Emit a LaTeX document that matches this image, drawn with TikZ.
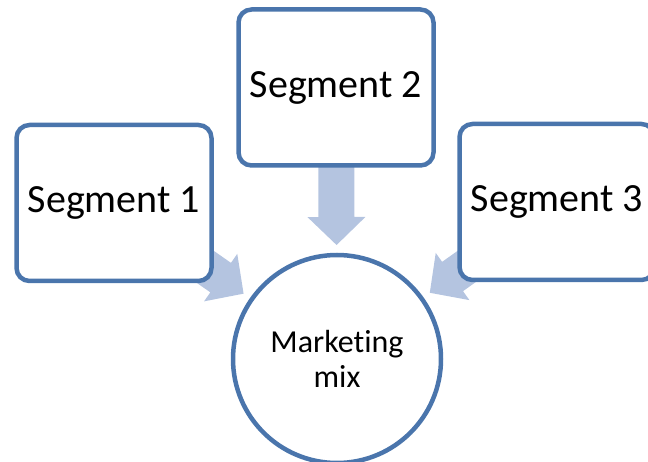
\documentclass[tikz,border=0pt]{standalone}
\usepackage{fontspec}
\setmainfont{Carlito}[Ligatures=NoCommon]
\usetikzlibrary{calc,backgrounds}

\definecolor{segblue}{RGB}{74,117,172}
\definecolor{arrowblue}{RGB}{180,196,224}

\tikzset{
  segbox/.style={draw=segblue, line width=4.5pt, fill=white, rounded corners=13pt,
    minimum width=195pt, minimum height=156pt, inner sep=0pt,
    font=\fontsize{40}{48}\selectfont},
  mixcircle/.style={circle, draw=segblue, line width=4.5pt, fill=white,
    minimum size=208pt, inner sep=0pt, align=center,
    font=\fontsize{32}{35}\selectfont},
  blockarrow/.style={fill=arrowblue, draw=none},
}

% wide block arrow from the centre of node #1 towards node #2,
% its tip stopping just outside the border of #2
\newcommand\feedarrow[2]{%
  \coordinate (#1-tip) at ($(#2.center)!114pt!(#1.center)$);
  \coordinate (#1-base) at ($(#1-tip)!28pt!(#1.center)$);
  \fill[blockarrow]
    ($(#1.center)!18pt!90:(#1-tip)$) --
    ($(#1-base)!18pt!90:(#1-tip)$) --
    ($(#1-base)!29pt!90:(#1-tip)$) --
    (#1-tip) --
    ($(#1-base)!29pt!-90:(#1-tip)$) --
    ($(#1-base)!18pt!-90:(#1-tip)$) --
    ($(#1.center)!18pt!-90:(#1-tip)$) -- cycle;
}

\begin{document}
\begin{tikzpicture}[x=1pt, y=-1pt]
  \useasboundingbox (0,0) rectangle (648,462);

  \node[segbox] (seg1) at (114,203) {Segment 1};
  \node[segbox] (seg2) at (336,87.5) {Segment 2};
  \node[segbox] (seg3) at (557,202) {Segment 3};
  \node[mixcircle] (mix) at (337,359) {Marketing\\mix};

  \begin{scope}[on background layer]
    \feedarrow{seg1}{mix}
    \feedarrow{seg2}{mix}
    \feedarrow{seg3}{mix}
  \end{scope}
\end{tikzpicture}
\end{document}
